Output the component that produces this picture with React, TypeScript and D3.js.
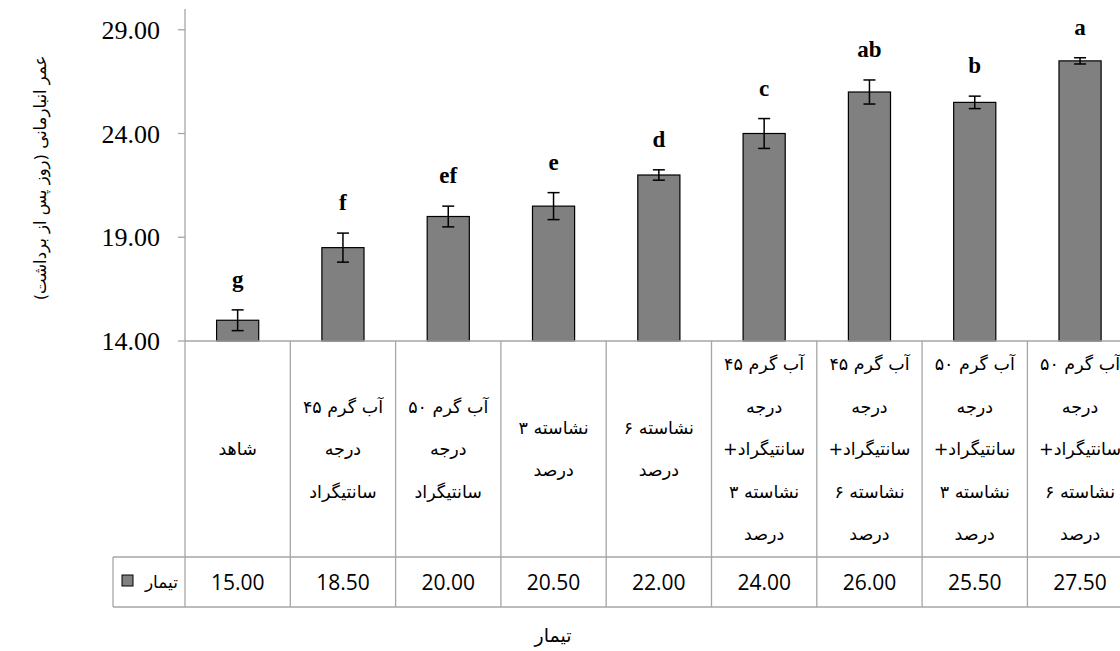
import React from "react";
import * as d3 from "d3";

// treatments (rows of each category cell), values, error bars, Duncan letters
const categoryLines: string[][] = [
  ["شاهد"],
  ["آب گرم ۴۵", "درجه", "سانتیگراد"],
  ["آب گرم ۵۰", "درجه", "سانتیگراد"],
  ["نشاسته ۳", "درصد"],
  ["نشاسته ۶", "درصد"],
  ["آب گرم ۴۵", "درجه", "سانتیگراد+", "نشاسته ۳", "درصد"],
  ["آب گرم ۴۵", "درجه", "سانتیگراد+", "نشاسته ۶", "درصد"],
  ["آب گرم ۵۰", "درجه", "سانتیگراد+", "نشاسته ۳", "درصد"],
  ["آب گرم ۵۰", "درجه", "سانتیگراد+", "نشاسته ۶", "درصد"],
];
const values = [15.0, 18.5, 20.0, 20.5, 22.0, 24.0, 26.0, 25.5, 27.5];
const errors = [0.5, 0.7, 0.5, 0.65, 0.25, 0.72, 0.58, 0.3, 0.15];
const letters = ["g", "f", "ef", "e", "d", "c", "ab", "b", "a"];
const yTicks = [14, 19, 24, 29];
const seriesName = "تیمار";
const xTitle = "تیمار";
const yTitle = "عمر انبارمانی (روز پس از برداشت)";

const W = 1120;
const H = 651;
const plotLeft = 185;
const colW = 105.3;
const plotTop = 9;
const axisY = 341;
const valueRowTop = 557;
const tableBottom = 607;
const legendLeft = 113;

const persian = "'DejaVu Sans', sans-serif";
const gridColor = "#a6a6a6";

export default function App() {
  const idx = values.map((_, i) => i);
  const cell = d3.scaleBand<number>().domain(idx).range([plotLeft, plotLeft + colW * values.length]).padding(0);
  const bar = d3
    .scaleBand<number>()
    .domain(idx)
    .range([plotLeft, plotLeft + colW * values.length])
    .paddingInner(0.6)
    .paddingOuter(0.3);
  const y = d3.scaleLinear().domain([14, 30]).range([axisY, plotTop]);

  const catMid = (axisY + valueRowTop) / 2;
  const lineGap = 42.5;

  return (
    <svg width={W} height={H} style={{ position: "absolute", left: 0, top: 0, background: "#fff" }}>
      <rect x={0} y={0} width={W} height={H} fill="#fff" />

      {/* bars */}
      {values.map((v, i) => (
        <rect
          key={"b" + i}
          x={bar(i)!}
          y={y(v)}
          width={bar.bandwidth()}
          height={y(14) - y(v)}
          fill="#808080"
          stroke="#000"
          strokeWidth={1.2}
        />
      ))}

      {/* error bars */}
      {values.map((v, i) => {
        const cx = bar(i)! + bar.bandwidth() / 2;
        const t = y(v + errors[i]);
        const b = y(v - errors[i]);
        return (
          <g key={"e" + i} stroke="#000" strokeWidth={1.5}>
            <line x1={cx} x2={cx} y1={t} y2={b} />
            <line x1={cx - 6} x2={cx + 6} y1={t} y2={t} />
            <line x1={cx - 6} x2={cx + 6} y1={b} y2={b} />
          </g>
        );
      })}

      {/* letters */}
      {values.map((v, i) => (
        <text
          key={"l" + i}
          x={bar(i)! + bar.bandwidth() / 2}
          y={y(v + errors[i]) - 31}
          dy="0.35em"
          textAnchor="middle"
          fontFamily="'Liberation Serif', 'Times New Roman', serif"
          fontWeight="bold"
          fontSize={23}
        >
          {letters[i]}
        </text>
      ))}

      {/* y axis */}
      <line x1={plotLeft} x2={plotLeft} y1={plotTop} y2={axisY} stroke={gridColor} strokeWidth={1.3} />
      {yTicks.map((t) => (
        <g key={"t" + t}>
          <line x1={plotLeft - 7} x2={plotLeft} y1={y(t)} y2={y(t)} stroke={gridColor} strokeWidth={1.3} />
          <text
            x={plotLeft - 25}
            y={y(t)}
            dy="0.35em"
            textAnchor="end"
            fontFamily="'Liberation Serif', 'Times New Roman', serif"
            fontSize={26}
            fill="#000"
          >
            {d3.format(".2f")(t)}
          </text>
        </g>
      ))}

      {/* data table */}
      <g stroke={gridColor} strokeWidth={1.3}>
        <line x1={plotLeft} x2={W} y1={axisY} y2={axisY} />
        <line x1={legendLeft} x2={W} y1={valueRowTop} y2={valueRowTop} />
        <line x1={legendLeft} x2={W} y1={tableBottom} y2={tableBottom} />
        <line x1={legendLeft} x2={legendLeft} y1={valueRowTop} y2={tableBottom} />
        {idx.concat([values.length]).map((i) => {
          const x = plotLeft + i * colW;
          return <line key={"v" + i} x1={x} x2={x} y1={axisY} y2={tableBottom} />;
        })}
      </g>

      {categoryLines.map((lines, i) => {
        const cx = cell(i)! + cell.bandwidth() / 2;
        const start = catMid - ((lines.length - 1) * lineGap) / 2;
        return (
          <text
            key={"c" + i}
            textAnchor="middle"
            direction="rtl"
            fontFamily={persian}
            fontSize={17.5}
            fill="#000"
          >
            {lines.map((ln, j) => (
              <tspan key={j} x={cx} y={start + j * lineGap} dy="0.35em">
                {ln}
              </tspan>
            ))}
          </text>
        );
      })}

      {values.map((v, i) => (
        <text
          key={"n" + i}
          x={cell(i)! + cell.bandwidth() / 2}
          y={(valueRowTop + tableBottom) / 2}
          dy="0.36em"
          textAnchor="middle"
          fontFamily="'Open Sans', sans-serif"
          fontSize={21}
          fill="#000"
        >
          {d3.format(".2f")(v)}
        </text>
      ))}

      {/* legend key */}
      <rect x={122} y={575} width={11} height={11} fill="#808080" stroke="#000" strokeWidth={1} />
      <text
        x={178}
        y={(valueRowTop + tableBottom) / 2}
        dy="0.35em"
        textAnchor="end"
        fontFamily={persian}
        fontSize={17}
        fill="#000"
      >
        {seriesName}
      </text>

      {/* axis titles */}
      <text x={553} y={635} dy="0.35em" textAnchor="middle" fontFamily={persian} fontSize={19} fill="#000">
        {xTitle}
      </text>
      <text
        transform={`translate(40,${(plotTop + axisY) / 2 + 3}) rotate(-90)`}
        textAnchor="middle"
        dy="0.35em"
        direction="rtl"
        fontFamily={persian}
        fontSize={16.5}
        fill="#000"
      >
        {yTitle}
      </text>
    </svg>
  );
}
